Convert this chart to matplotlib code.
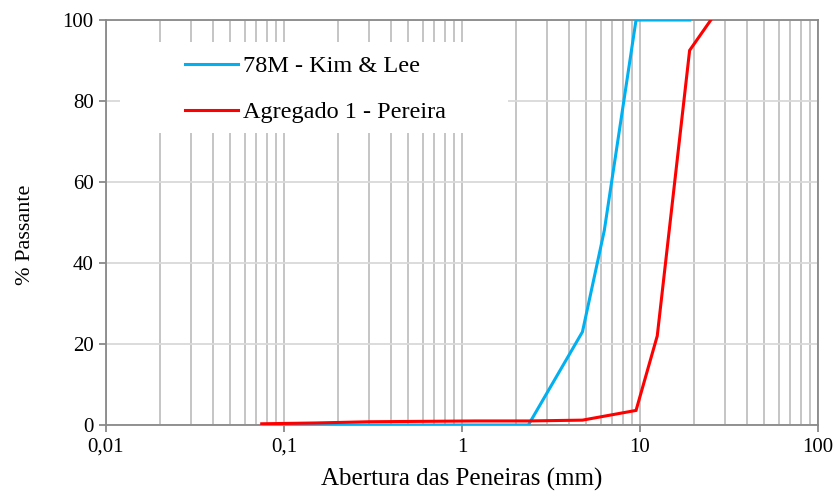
import matplotlib
matplotlib.use("Agg")
import matplotlib.pyplot as plt
from matplotlib.patches import Rectangle
from matplotlib.ticker import LogLocator, FixedLocator, NullFormatter

plt.rcParams['font.family'] = ['Liberation Serif', 'DejaVu Serif']

# Data
sieves_kim = [0.075, 0.15, 0.3, 0.6, 1.18, 2.36, 4.75, 6.3, 9.5, 12.5, 19]
pass_kim = [0, 0, 0, 0, 0, 0, 23, 48, 100, 100, 100]
sieves_per = [0.075, 0.15, 0.3, 0.6, 1.18, 2.36, 4.75, 9.5, 12.5, 19, 25]
pass_per = [0.3, 0.5, 0.8, 0.9, 1.0, 1.0, 1.2, 3.6, 22, 92.5, 100]
label_kim = "78M - Kim & Lee"
label_per = "Agregado 1 - Pereira"
xticks = [0.01, 0.1, 1, 10, 100]
xticklabels = ["0,01", "0,1", "1", "10", "100"]
yticks = [0, 20, 40, 60, 80, 100]

W, H = 838, 492
fig = plt.figure(figsize=(W / 100, H / 100), dpi=100)
ax = fig.add_axes([106 / W, 1 - 425 / H, 712 / W, 405 / H])

ax.set_xscale('log')
ax.set_xlim(0.01, 100)
ax.set_ylim(0, 100)

ax.set_axisbelow(True)
ax.xaxis.set_major_locator(FixedLocator(xticks))
ax.xaxis.set_minor_locator(LogLocator(base=10, subs=range(2, 10)))
ax.xaxis.set_minor_formatter(NullFormatter())
ax.set_xticks(xticks)
ax.set_xticklabels(xticklabels)
ax.set_yticks(yticks)

ax.grid(True, which='both', axis='x', color='#c0c0c0', linewidth=1.3)
ax.grid(True, which='major', axis='y', color='#d9d9d9', linewidth=1.3)

for s in ax.spines.values():
    s.set_color('#898989')
    s.set_linewidth(1.3)

ax.tick_params(axis='both', which='major', length=5, width=1.3, color='#898989',
               labelsize=15, pad=4, direction='out')
ax.tick_params(axis='x', which='minor', length=0)

# white legend background box
ax.add_patch(Rectangle((14 / 712, 1 - 113 / 405), 388 / 712, 91 / 405,
                       transform=ax.transAxes, facecolor='white', edgecolor='none',
                       zorder=1))

l1, = ax.plot(sieves_kim, pass_kim, color='#00b0f0', linewidth=2.2, zorder=3,
              label=label_kim, solid_joinstyle='miter')
l2, = ax.plot(sieves_per, pass_per, color='#ff0000', linewidth=2.2, zorder=3,
              label=label_per, solid_joinstyle='miter')

leg = ax.legend(handles=[l1, l2], loc='upper left',
                bbox_to_anchor=(79 / 712, 1 - 35 / 405), frameon=False,
                fontsize=17.5, handlelength=2.18, handletextpad=0.22,
                labelspacing=1.0, borderaxespad=0, borderpad=0)
leg.set_zorder(4)

ax.set_xlabel("Abertura das Peneiras (mm)", fontsize=18, labelpad=8)
ax.set_ylabel("% Passante", fontsize=16)
ax.yaxis.set_label_coords((35 - 106) / 712, (425 - 235) / 405)

fig.savefig("out.png", dpi=100)
